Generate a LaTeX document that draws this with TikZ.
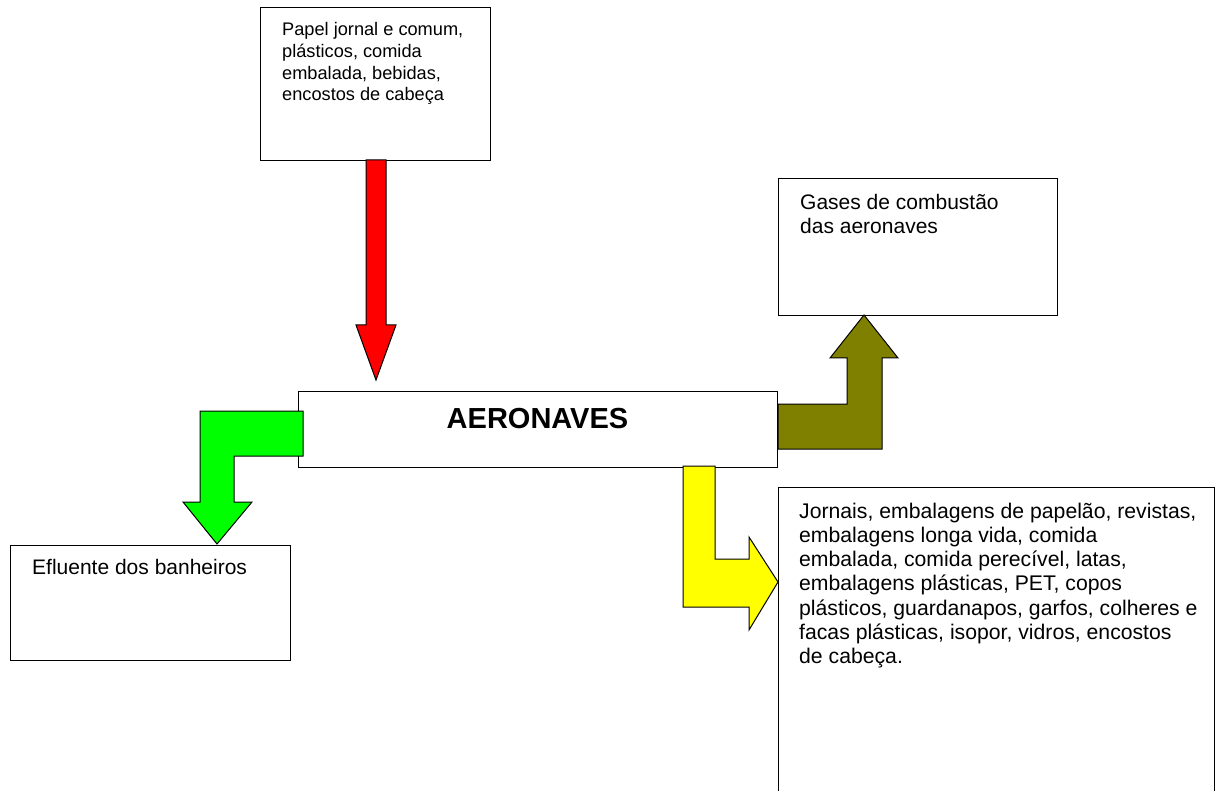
\documentclass[tikz,border=0pt]{standalone}
\usepackage{fontspec}
\setmainfont{Liberation Sans}
\begin{document}
\begin{tikzpicture}[x=1pt,y=-1pt,
  box/.style={draw=black,line width=1.3pt,fill=white,inner sep=0pt,anchor=north west},
  label/.style={anchor=base west,align=left,inner sep=0pt},
  bigarrow/.style={draw=black,line width=1pt,line join=miter}]
\useasboundingbox (0,0) rectangle (1215,791);

% boxes
\node[box,minimum width=230pt,minimum height=153pt] (src) at (260,7) {};
\node[box,minimum width=479pt,minimum height=76pt] (aero) at (298,391) {};
\node[box,minimum width=279pt,minimum height=137pt] (gas) at (778,178) {};
\node[box,minimum width=280pt,minimum height=115pt] (eflu) at (10,545) {};
\node[box,minimum width=436pt,minimum height=340pt] (solid) at (778,487) {};

% texts (anchored at the baseline of their last line)
\node[label,font=\fontsize{18.2}{21.6}\selectfont] (srctxt) at (282,100.8)
  {Papel jornal e comum,\\plásticos, comida\\embalada, bebidas,\\encostos de cabeça};
\node[anchor=base,inner sep=0pt,font=\fontsize{29}{33}\selectfont\bfseries] (aerotxt) at (537.5,428) {AERONAVES};
\node[label,font=\fontsize{21}{23.5}\selectfont] (gastxt) at (800,233.5)
  {Gases de combustão\\das aeronaves};
\node[label,font=\fontsize{21}{24}\selectfont] (eflutxt) at (32,574) {Efluente dos banheiros};
\node[label,font=\fontsize{21.2}{24.3}\selectfont] (solidtxt) at (799,663.8)
  {Jornais, embalagens de papelão, revistas,\\embalagens longa vida, comida\\embalada, comida perecível, latas,\\embalagens plásticas, PET, copos\\plásticos, guardanapos, garfos, colheres e\\facas plásticas, isopor, vidros, encostos\\de cabeça.};

% block arrows
\draw[bigarrow,fill={rgb,255:red,255;green,0;blue,0}]
  (366,160) -- (386,160) -- (386,325) -- (396,325) -- (376,380) -- (356,325) -- (366,325) -- cycle;
\draw[bigarrow,fill={rgb,255:red,0;green,255;blue,0}]
  (303,411) -- (200,411) -- (200,502) -- (183,502) -- (217,544) -- (252,502) -- (234,502) -- (234,456) -- (303,456) -- cycle;
\draw[bigarrow,fill={rgb,255:red,128;green,128;blue,0}]
  (778,404) -- (847,404) -- (847,358) -- (830,358) -- (864,315) -- (898,358) -- (882,358) -- (882,449) -- (778,449) -- cycle;
\draw[bigarrow,fill={rgb,255:red,255;green,255;blue,0}]
  (683,466) -- (715,466) -- (715,559) -- (749,559) -- (749,537) -- (778,582) -- (749,630) -- (749,607) -- (683,607) -- cycle;
\end{tikzpicture}
\end{document}
